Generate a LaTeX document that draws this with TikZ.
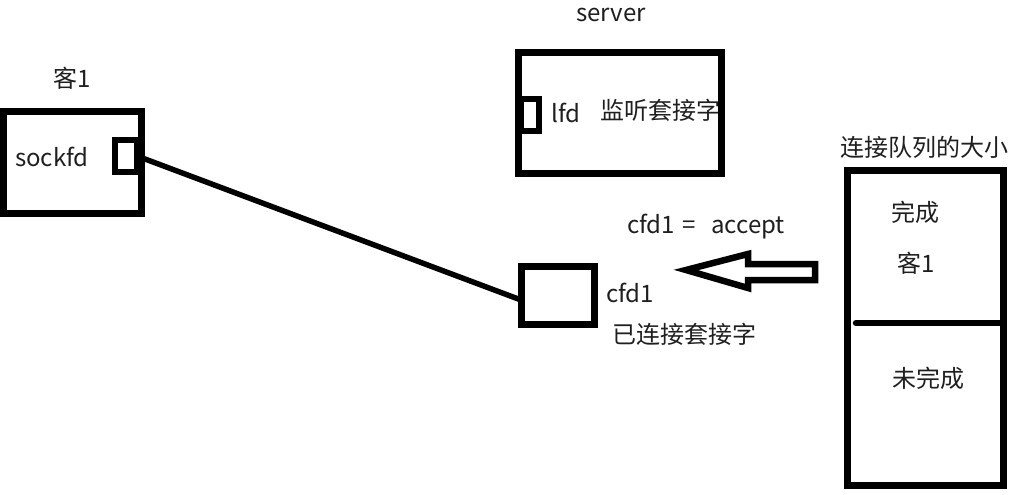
\documentclass[tikz,border=0pt]{standalone}
\usepackage{fontspec}
\setmainfont{Noto Sans CJK SC}
\begin{document}
\begin{tikzpicture}[x=1pt,y=-1pt,
  box/.style={draw=black,line width=7pt,fill=white,rectangle,inner sep=0pt,outer sep=0pt},
  port/.style={draw=black,line width=6pt,fill=white,rectangle,inner sep=0pt,outer sep=0pt},
  lbl/.style={inner sep=0pt,font=\fontsize{24}{27}\selectfont,text=black!88}]
\useasboundingbox[fill=white] (0,0) rectangle (1018,495);
% client
\node[box,minimum width=138pt,minimum height=102pt] (client) at (72,162) {};
\node[port,minimum width=22pt,minimum height=32pt] (cport) at (126,156) {};
\node[lbl] (clientname) at (72,78) {客1};
\node[lbl] (sockfd) at (52,157) {sockfd};
% server
\node[box,minimum width=203pt,minimum height=120pt] (server) at (619.5,113) {};
\node[port,minimum width=18pt,minimum height=32pt] (sport) at (530,115) {};
\node[lbl] (servername) at (611,15) {server};
\node[lbl] (lfd) at (566,113) {lfd};
\node[lbl] (listen) at (660,110) {监听套接字};
% cfd1
\node[box,minimum width=73pt,minimum height=58pt] (cfd) at (557.5,295) {};
\node[lbl] (cfdname) at (630,293) {cfd1};
\node[lbl] (connected) at (684,334) {已连接套接字};
\node[lbl] (accept) at (706,227) {cfd1\hspace{7pt}=\hspace{16pt}accept};
% connector
\draw[line width=5.5pt] (cport.east) -- ([yshift=-5pt]cfd.west);
% hollow arrow
\coordinate (tip) at (686,270);
\draw[line width=6.5pt,line join=miter,fill=white]
  (tip) -- (748,254) -- (748,264) -- (815,264) -- (815,280) -- (748,280) -- (748,288) -- cycle;
% queue
\node[box,fill=none,minimum width=156pt,minimum height=315pt] (queue) at (925,327.5) {};
\node[lbl] (qtitle) at (924,147) {连接队列的大小};
\node[lbl] (done) at (915,212) {完成};
\node[lbl] (doneclient) at (916,263) {客1};
\node[lbl] (undone) at (928,378) {未完成};
\draw[line width=6.5pt,line cap=round] (856,323) -- (queue.east |- 0,323);
\end{tikzpicture}
\end{document}
